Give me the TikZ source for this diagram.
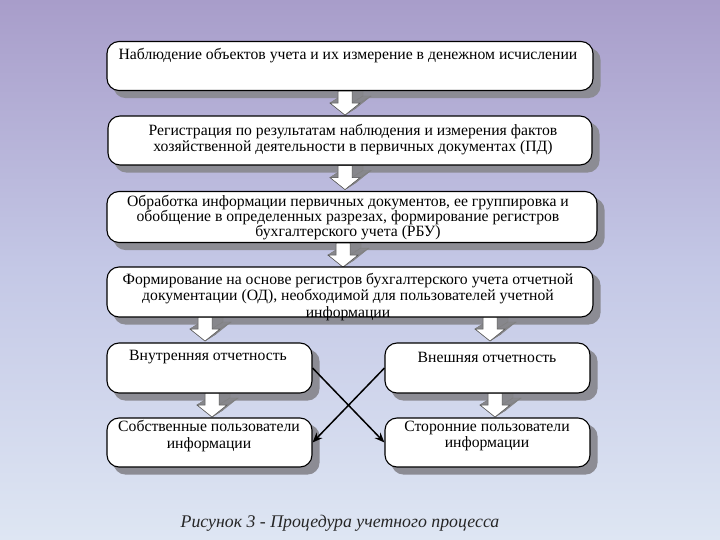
\documentclass[tikz,border=0pt]{standalone}
\usepackage{fontspec}
\setmainfont{Liberation Serif}
\usetikzlibrary{arrows.meta,calc}
\definecolor{bgtop}{RGB}{168,157,202}
\definecolor{bgmid}{RGB}{196,200,230}
\definecolor{bgbot}{RGB}{222,230,243}
\definecolor{shadowc}{RGB}{140,140,148}
\definecolor{arrside}{RGB}{135,135,140}
\pgfdeclarelayer{bgl}
\pgfdeclarelayer{shadowl}
\pgfdeclarelayer{arrowl}
\pgfsetlayers{bgl,shadowl,arrowl,main}
\tikzset{
  box/.style={draw=black, line width=1.1pt, fill=white, rounded corners=12pt, inner sep=0pt},
  txt/.style={align=center, font=\fontsize{15.7}{16.5}\selectfont, inner sep=0pt},
  cross/.style={line width=1.5pt, -{Stealth[length=10pt,width=8pt]}},
  barrow/.pic={
    \coordinate (d) at (11,-7);
    \foreach \ax/\ay/\bx/\by in {-7/0/7/0, 7/0/7/12, 7/12/15/12, 15/12/0/24, 0/24/-15/12, -15/12/-7/12, -7/12/-7/0}{
      \filldraw[fill=arrside, draw=gray, line width=0.4pt] (\ax,\ay) -- (\bx,\by) -- ($(\bx,\by)+(d)$) -- ($(\ax,\ay)+(d)$) -- cycle;
    }
    \filldraw[fill=white, draw=black!70, line width=0.5pt] (-7,0) -- (7,0) -- (7,12) -- (15,12) -- (0,24) -- (-15,12) -- (-7,12) -- cycle;
  }
}
\begin{document}
\begin{tikzpicture}[x=1pt,y=-1pt]
\useasboundingbox (0,0) rectangle (720,540);
\begin{pgfonlayer}{bgl}
\shade[top color=bgtop, bottom color=bgbot, middle color=bgmid] (0,0) rectangle (720,540);
\end{pgfonlayer}

% boxes
\node[box, minimum width=486pt, minimum height=49pt] (b1) at (350,66) {};
\node[box, minimum width=484pt, minimum height=49pt] (b2) at (350,140.5) {};
\node[box, minimum width=490pt, minimum height=51pt] (b3) at (352,217) {};
\node[box, minimum width=486pt, minimum height=50pt] (b4) at (350,292) {};
\node[box, minimum width=205pt, minimum height=50pt] (b5) at (209.5,368) {};
\node[box, minimum width=205pt, minimum height=50pt] (b6) at (487.5,368) {};
\node[box, minimum width=205pt, minimum height=49pt] (b7) at (209.5,442.5) {};
\node[box, minimum width=205pt, minimum height=49pt] (b8) at (487.5,442.5) {};

% texts
\node[txt] (t1) at (348,56) {Наблюдение объектов учета и их измерение в денежном исчислении};
\node[txt] (t2) at (353,139.5) {Регистрация по результатам наблюдения и измерения фактов\\хозяйственной деятельности в первичных документах (ПД)};
\node[txt, font=\fontsize{15.7}{15}\selectfont] (t3) at (348,218) {Обработка информации первичных документов, ее группировка и\\обобщение в определенных разрезах, формирование регистров\\бухгалтерского учета (РБУ)};
\node[txt] (t4) at (348,297) {Формирование на основе регистров бухгалтерского учета отчетной\\документации (ОД), необходимой для пользователей учетной\\информации};
\node[txt] (t5) at (208,357) {Внутренняя отчетность};
\node[txt] (t6) at (487,357) {Внешняя отчетность};
\node[txt] (t7) at (209,436) {Собственные пользователи\\информации};
\node[txt] (t8) at (487,436) {Сторонние пользователи\\информации};

% shadows
\begin{pgfonlayer}{shadowl}
\foreach \n in {b1,b2,b3,b4,b5,b6,b7,b8}{
  \fill[shadowc, rounded corners=12pt] ($(\n.north west)+(7,7)$) rectangle ($(\n.south east)+(7,7)$);
}
\end{pgfonlayer}

% block arrows
\begin{pgfonlayer}{arrowl}
\pic (a12) at ($(b1.south)+(-5,0)$) {barrow};
\pic (a23) at ($(b2.south)+(-5,0)$) {barrow};
\pic (a34) at ($(b3.south)+(-9,0)$) {barrow};
\pic (a45) at (205,317) {barrow};
\pic (a46) at (490,317) {barrow};
\pic (a57) at (212,393) {barrow};
\pic (a68) at (495,393) {barrow};
\end{pgfonlayer}

% crossing arrows
\draw[cross] (b5.east) -- (b8.west);
\draw[cross] (b6.west) -- (b7.east);

% caption
\node[font=\fontsize{17.8}{20}\selectfont\itshape, text=black!85, inner sep=0pt] (cap) at (340,523) {Рисунок 3 - Процедура учетного процесса};
\end{tikzpicture}
\end{document}
